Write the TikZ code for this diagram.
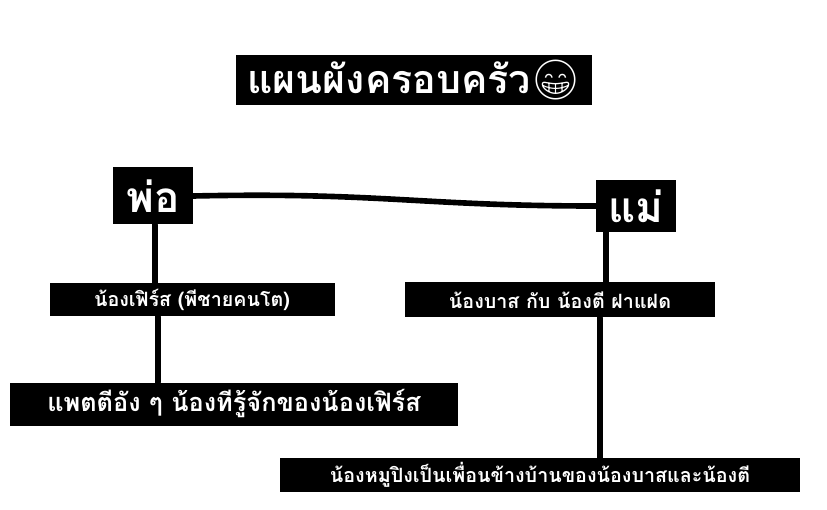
\documentclass[tikz,border=0pt]{standalone}
\usepackage{fontspec}
\newfontfamily\thaifont[Script=Thai]{Loma}
\newfontfamily\emojifont{Noto Emoji}
\tikzset{
  famnode/.style={rectangle, fill=black, text=white, inner sep=0pt, font=\thaifont\bfseries},
  famline/.style={line width=4pt, black, line cap=round}
}
\begin{document}
\begin{tikzpicture}[x=0.025cm, y=-0.025cm]
  \useasboundingbox (0,0) rectangle (827,510);
  % title
  \node (title) [famnode, minimum width=356*0.025cm, minimum height=50*0.025cm, font=\thaifont\bfseries\fontsize{28}{30}\selectfont] at (414,80) {แผนผังครอบครัว{\emojifont 😁}};
  % parents
  \node (father) [famnode, minimum width=80*0.025cm, minimum height=57*0.025cm, font=\thaifont\bfseries\fontsize{30}{32}\selectfont] at (153,196) {พ่อ};
  \node (mother) [famnode, minimum width=80*0.025cm, minimum height=52*0.025cm, font=\thaifont\bfseries\fontsize{30}{32}\selectfont] at (636,206) {แม่};
  % children
  \node (first) [famnode, minimum width=285*0.025cm, minimum height=33*0.025cm, font=\thaifont\bfseries\fontsize{14}{16}\selectfont] at (192,300) {น้องเฟิร์ส (พีชายคนโต)};
  \node (twins) [famnode, minimum width=310*0.025cm, minimum height=35*0.025cm, font=\thaifont\bfseries\fontsize{14}{16}\selectfont] at (560,300) {น้องบาส กับ น้องตี ฝาแฝด};
  % friends
  \node (patty) [famnode, minimum width=448*0.025cm, minimum height=43*0.025cm, font=\thaifont\bfseries\fontsize{18}{20}\selectfont] at (234,404) {แพตตีอัง ๆ น้องทีรู้จักของน้องเฟิร์ส};
  \node (ping) [famnode, minimum width=520*0.025cm, minimum height=34*0.025cm, font=\thaifont\bfseries\fontsize{14}{16}\selectfont] at (540,475) {น้องหมูปิงเป็นเพื่อนข้างบ้านของน้องบาสและน้องตี};
  % connectors
  \draw [famline] (father.east) .. controls (380,192) and (420,206) .. (mother.west);
  \draw [famline] (father.south -| 155,0) -- (first.north -| 155,0);
  \draw [famline] (first.south -| 158,0) -- (patty.north -| 158,0);
  \draw [famline] (mother.south -| 606,0) -- (twins.north -| 606,0);
  \draw [famline] (twins.south -| 600,0) -- (ping.north -| 600,0);
\end{tikzpicture}
\end{document}
